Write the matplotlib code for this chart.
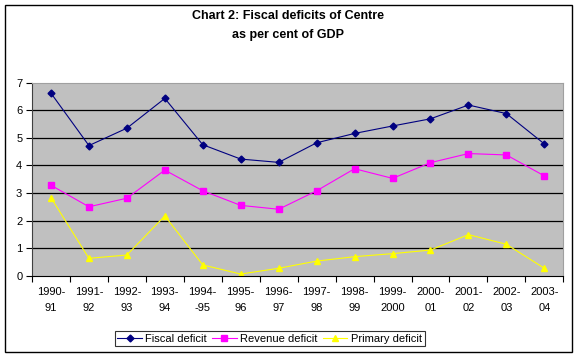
import numpy as np
from matplotlib import pyplot as plt
from matplotlib.patches import Rectangle

years = ['1990-\n91', '1991-\n92', '1992-\n93', '1993-\n94', '1994-\n-95', '1995-\n96', '1996-\n97',
         '1997-\n98', '1998-\n99', '1999-\n2000', '2000-\n01', '2001-\n02', '2002-\n03', '2003-\n04']

fiscal = [6.62, 4.72, 5.35, 6.43, 4.75, 4.23, 4.11, 4.82, 5.16, 5.43, 5.69, 6.19, 5.88, 4.78]
revenue = [3.28, 2.50, 2.81, 3.83, 3.08, 2.55, 2.41, 3.08, 3.88, 3.53, 4.10, 4.43, 4.38, 3.62]
primary = [2.83, 0.63, 0.75, 2.17, 0.39, 0.06, 0.27, 0.53, 0.69, 0.80, 0.93, 1.49, 1.14, 0.27]

plt.rcParams['font.family'] = ['Liberation Sans', 'DejaVu Sans']

W, H = 576, 357
fig = plt.figure(figsize=(W/100, H/100), dpi=100)

# outer chart border
fig.patches.append(Rectangle((5/W, 5/H), 567/W, 347/H, transform=fig.transFigure,
                             fill=False, edgecolor='black', lw=1))

ax = fig.add_axes([32/W, (H-275.7)/H, 531.3/W, 193/H])
ax.set_facecolor('#c0c0c0')

x = np.arange(len(years))
ax.plot(x, fiscal, color='#000080', marker='D', ms=3.5, lw=0.8, label='Fiscal deficit')
ax.plot(x, revenue, color='#ff00ff', marker='s', ms=4, lw=0.8, label='Revenue deficit')
ax.plot(x, primary, color='#ffff00', marker='^', ms=4, lw=0.8, label='Primary deficit')

ax.set_xlim(-0.5, len(years)-0.5)
ax.set_ylim(0, 7)
ax.set_yticks(range(0, 8))
for v in range(1, 7):
    ax.axhline(v, color='black', lw=0.9, zorder=0.5)

ax.set_xticks(np.arange(-0.5, len(years), 1.0))
ax.set_xticklabels([])
ax.set_xticks(x, minor=True)
ax.set_xticklabels(years, minor=True, fontsize=8, linespacing=1.75)
ax.tick_params(axis='x', which='major', length=4, direction='out', color='black')
ax.tick_params(axis='x', which='minor', length=0, pad=8)
ax.tick_params(axis='y', length=4, labelsize=8, color='black', pad=3)

for s in ['top', 'right']:
    ax.spines[s].set_color('#a0a0a0')
ax.spines['left'].set_color('#404040')
ax.spines['bottom'].set_color('black')

fig.text(0.5, (H-16)/H, 'Chart 2: Fiscal deficits of Centre', ha='center', va='center',
         fontsize=9, fontweight='bold')
fig.text(0.5, (H-35)/H, 'as per cent of GDP', ha='center', va='center',
         fontsize=9, fontweight='bold')

leg = fig.legend(loc='center', bbox_to_anchor=(269.5/W, (H-338.5)/H), ncol=3, fontsize=8,
                 frameon=True, fancybox=False, edgecolor='black', handlelength=2.2,
                 handletextpad=0.3, columnspacing=0.5, borderpad=0.25, borderaxespad=0)
leg.get_frame().set_linewidth(0.8)

plt.savefig('out.png', dpi=100)
